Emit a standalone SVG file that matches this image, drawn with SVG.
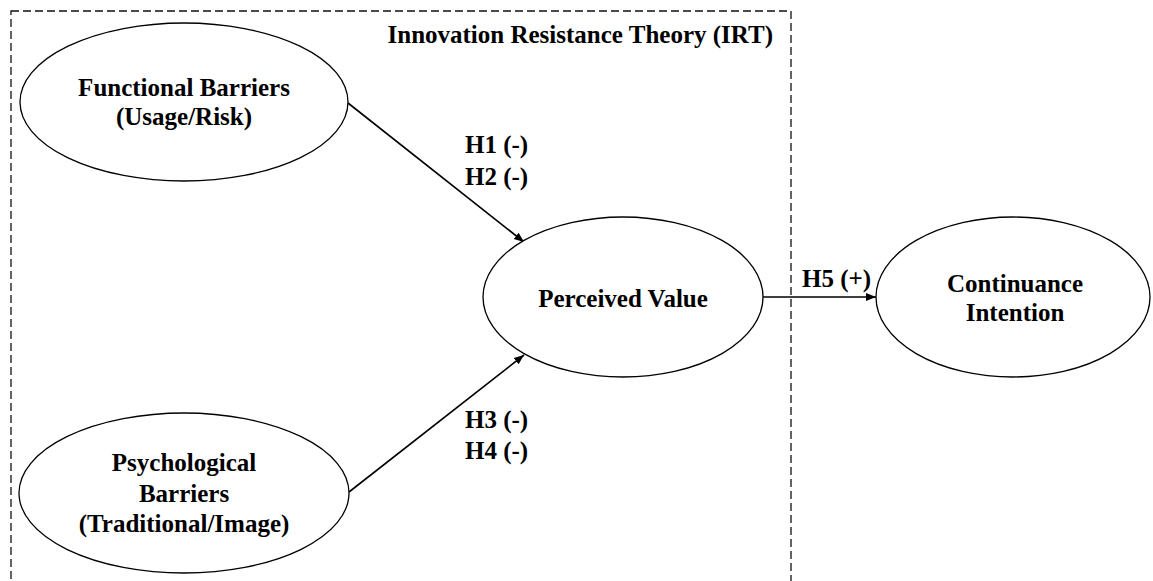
<svg xmlns="http://www.w3.org/2000/svg" width="1153" height="581" viewBox="0 0 1153 581">
<style>
text{font-family:"Liberation Serif","Times New Roman",serif;font-weight:bold;font-size:25px;fill:#000}
.c{text-anchor:middle}
.node{fill:#fff;stroke:#000;stroke-width:1.3}
.edge{stroke:#000;stroke-width:1.6;fill:none}
.frame{fill:none;stroke:#111;stroke-width:1.3;stroke-dasharray:8 4}
</style>
<defs>
<marker id="ah" viewBox="0 0 10 10" refX="10" refY="5" markerWidth="10" markerHeight="10" markerUnits="userSpaceOnUse" orient="auto">
<path d="M0,1 L10,5 L0,9 Z" fill="#000"/>
</marker>
</defs>
<rect class="frame" x="11" y="11" width="780" height="590"/>
<text x="773" y="43" text-anchor="end">Innovation Resistance Theory (IRT)</text>
<g id="connectors">
<line class="edge" x1="348" y1="103" x2="524" y2="242" marker-end="url(#ah)"/>
<line class="edge" x1="349" y1="492" x2="524" y2="355" marker-end="url(#ah)"/>
<line class="edge" x1="763" y1="297" x2="876" y2="297" marker-end="url(#ah)"/>
<text x="465" y="153">H1 (-)</text>
<text x="465" y="185">H2 (-)</text>
<text x="465" y="428">H3 (-)</text>
<text x="465" y="459">H4 (-)</text>
<text x="802" y="287">H5 (+)</text>
</g>
<g id="functional">
<ellipse class="node" cx="184" cy="102" rx="164" ry="79"/>
<text class="c" x="184" y="96">Functional Barriers</text>
<text class="c" x="184" y="125">(Usage/Risk)</text>
</g>
<g id="psychological">
<ellipse class="node" cx="184" cy="493" rx="165" ry="80"/>
<text class="c" x="184" y="471">Psychological</text>
<text class="c" x="184" y="502">Barriers</text>
<text class="c" x="184" y="532">(Traditional/Image)</text>
</g>
<g id="perceived">
<ellipse class="node" cx="623" cy="297" rx="140" ry="80"/>
<text class="c" x="623" y="307">Perceived Value</text>
</g>
<g id="continuance">
<ellipse class="node" cx="1013" cy="297" rx="137" ry="80"/>
<text class="c" x="1015" y="292">Continuance</text>
<text class="c" x="1015" y="321">Intention</text>
</g>
</svg>
